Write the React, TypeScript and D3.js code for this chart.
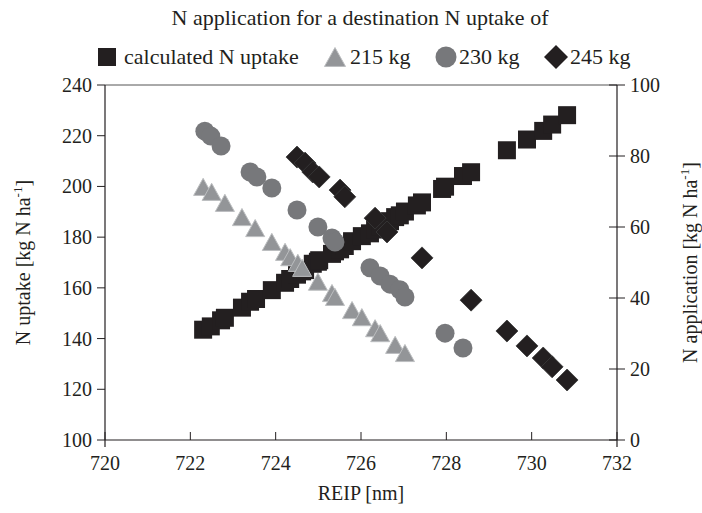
import React from "react";
import * as d3 from "d3";

// calculated N uptake (left axis)
const reipUptake = [722.30, 722.48, 722.72, 722.81, 723.21, 723.40, 723.54, 723.91, 724.22, 724.34, 724.50, 724.62, 724.69, 724.87, 724.99, 725.02, 725.32, 725.39, 725.51, 725.62, 725.79, 726.02, 726.21, 726.33, 726.45, 726.61, 726.68, 726.80, 726.91, 727.03, 727.31, 727.43, 727.90, 727.97, 728.39, 728.58, 729.42, 729.89, 730.27, 730.48, 730.83];
const uptake = [143.5, 144.8, 147.2, 148.2, 152.2, 154.5, 155.6, 159.1, 162.0, 163.5, 165.2, 166.5, 167.0, 169.5, 170.3, 170.9, 173.4, 174.4, 175.2, 176.5, 178.4, 180.4, 181.5, 183.0, 184.3, 185.6, 186.3, 187.9, 188.6, 190.1, 192.5, 193.7, 199.0, 199.9, 204.1, 205.6, 214.3, 218.5, 221.9, 224.4, 228.1];

// N application (right axis), destination uptake 215 kg
const reip215 = [722.30, 722.50, 722.81, 723.21, 723.52, 723.91, 724.22, 724.34, 724.52, 724.62, 724.99, 725.32, 725.39, 725.79, 726.02, 726.33, 726.45, 726.80, 727.03];
const app215 = [71.3, 69.9, 66.8, 62.8, 59.7, 55.8, 53.0, 51.5, 49.9, 48.5, 44.6, 41.4, 40.3, 36.6, 34.6, 31.5, 30.1, 26.8, 24.5];

// 230 kg
const reip230 = [722.34, 722.48, 722.72, 723.40, 723.56, 723.91, 724.50, 724.99, 725.32, 725.39, 726.21, 726.45, 726.68, 726.91, 727.03, 727.97, 728.39];
const app230 = [87.0, 85.6, 82.8, 75.5, 74.1, 71.0, 64.8, 60.0, 56.9, 55.8, 48.5, 46.2, 43.9, 42.3, 40.3, 30.1, 25.9];

// 245 kg
const reip245 = [724.50, 724.69, 724.87, 725.02, 725.51, 725.62, 726.33, 726.61, 727.43, 728.58, 729.42, 729.89, 730.27, 730.48, 730.83];
const app245 = [79.7, 78.0, 75.5, 74.1, 70.4, 68.5, 62.5, 58.6, 51.3, 39.4, 30.7, 26.5, 23.1, 20.6, 16.9];

const xTicks = [720, 722, 724, 726, 728, 730, 732];
const yLeftTicks = [100, 120, 140, 160, 180, 200, 220, 240];
const yRightTicks = [0, 20, 40, 60, 80, 100];

const W = 702;
const H = 513;
const L = 105, R = 617, T = 85, B = 440;
const FONT = "'Liberation Serif', 'Times New Roman', serif";
const FS = 20;
const LFS = 22;
const TXT = "#231f20";

const SQ = "#231f20";
const TRI_FILL = "#939598";
const TRI_STROKE = "#bcbec0";
const CIRC = "#77787b";
const DIA = "#231f20";

const sq = (cx: number, cy: number, s = 18) => `M${cx - s / 2},${cy - s / 2}h${s}v${s}h${-s}Z`;
const tri = (cx: number, cy: number, s = 19) => {
  const h = s * 0.9;
  return `M${cx},${cy - h / 2}L${cx + s / 2},${cy + h / 2}L${cx - s / 2},${cy + h / 2}Z`;
};
const dia = (cx: number, cy: number, r = 11) => `M${cx},${cy - r}L${cx + r},${cy}L${cx},${cy + r}L${cx - r},${cy}Z`;

export default function App() {
  const x = d3.scaleLinear().domain([720, 732]).range([L, R]);
  const yL = d3.scaleLinear().domain([100, 240]).range([B, T]);
  const yR = d3.scaleLinear().domain([0, 100]).range([B, T]);

  const legY = 57;

  return (
    <svg width={W} height={H} style={{ position: "absolute", left: 0, top: 0, background: "#fff" }} fontFamily={FONT}>
      <rect x={0} y={0} width={W} height={H} fill="#fff" />
      {/* title & legend */}
      <text x={360} y={25} fontSize={LFS} textAnchor="middle" fill={TXT}>N application for a destination N uptake of</text>
      <path d={sq(107, legY)} fill={SQ} />
      <text x={124} y={legY + 7} fontSize={LFS} fill={TXT}>calculated N uptake</text>
      <path d={tri(335, legY, 21)} fill={TRI_FILL} stroke={TRI_STROKE} strokeWidth={1} />
      <text x={350} y={legY + 7} fontSize={LFS} fill={TXT}>215 kg</text>
      <circle cx={446} cy={legY} r={10.5} fill={CIRC} />
      <text x={459} y={legY + 7} fontSize={LFS} fill={TXT}>230 kg</text>
      <path d={dia(556, legY, 12)} fill={DIA} />
      <text x={570} y={legY + 7} fontSize={LFS} fill={TXT}>245 kg</text>

      {/* frame */}
      <line x1={L} x2={R} y1={T} y2={T} stroke="#555" strokeWidth={1} />
      <line x1={L} x2={L} y1={T} y2={B + 7} stroke={TXT} strokeWidth={1.2} />
      <line x1={R} x2={R} y1={T} y2={B + 7} stroke={TXT} strokeWidth={1.2} />
      <line x1={L} x2={R} y1={B} y2={B} stroke={TXT} strokeWidth={1.2} />

      {/* x ticks */}
      {xTicks.map((t) => (
        <g key={"x" + t}>
          <line x1={x(t)} x2={x(t)} y1={B - 8} y2={B} stroke={TXT} strokeWidth={1} />
          <text x={x(t)} y={B + 30} fontSize={FS} textAnchor="middle" fill={TXT}>{t}</text>
        </g>
      ))}
      <text x={(L + R) / 2} y={B + 60} fontSize={FS} textAnchor="middle" fill={TXT}>REIP [nm]</text>

      {/* left y ticks */}
      {yLeftTicks.map((t) => (
        <g key={"yl" + t}>
          <line x1={L - 8} x2={L} y1={yL(t)} y2={yL(t)} stroke={TXT} strokeWidth={1} />
          <text x={L - 13} y={yL(t) + 7} fontSize={FS} textAnchor="end" fill={TXT}>{t}</text>
        </g>
      ))}
      <text transform={`translate(30,${(T + B) / 2}) rotate(-90)`} fontSize={FS} textAnchor="middle" fill={TXT}>
        N uptake [kg N ha<tspan fontSize={13} dy={-8}>-1</tspan><tspan dy={8}>]</tspan>
      </text>

      {/* right y ticks */}
      {yRightTicks.map((t) => (
        <g key={"yr" + t}>
          <line x1={R - 8} x2={R + 8} y1={yR(t)} y2={yR(t)} stroke={TXT} strokeWidth={1} />
          <text x={R + 13} y={yR(t) + 7} fontSize={FS} textAnchor="start" fill={TXT}>{t}</text>
        </g>
      ))}
      <text transform={`translate(697,${(T + B) / 2}) rotate(-90)`} fontSize={FS} textAnchor="middle" fill={TXT}>
        N application [kg N ha<tspan fontSize={13} dy={-8}>-1</tspan><tspan dy={8}>]</tspan>
      </text>

      {/* data */}
      <g>
        {reipUptake.map((r, i) => (
          <path key={"s" + i} d={sq(x(r), yL(uptake[i]))} fill={SQ} />
        ))}
      </g>
      <g>
        {reip215.map((r, i) => (
          <path key={"t" + i} d={tri(x(r), yR(app215[i]))} fill={TRI_FILL} stroke={TRI_STROKE} strokeWidth={1} />
        ))}
      </g>
      <g>
        {reip230.map((r, i) => (
          <circle key={"c" + i} cx={x(r)} cy={yR(app230[i])} r={9.5} fill={CIRC} />
        ))}
      </g>
      <g>
        {reip245.map((r, i) => (
          <path key={"d" + i} d={dia(x(r), yR(app245[i]))} fill={DIA} stroke="#3a3a3a" strokeWidth={0.8} />
        ))}
      </g>
    </svg>
  );
}
